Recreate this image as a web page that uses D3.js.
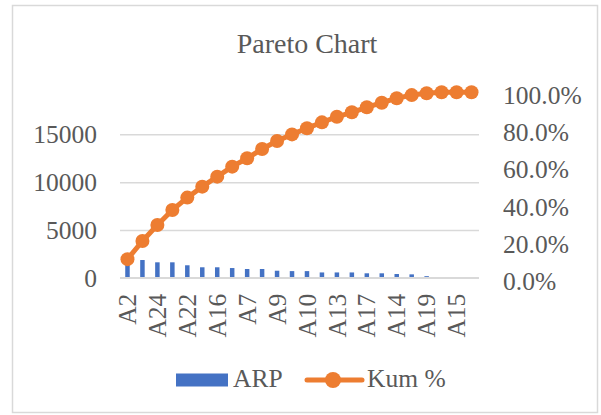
<!DOCTYPE html>
<html><head><meta charset="utf-8">
<script src="https://cdn.jsdelivr.net/npm/d3@7"></script>
<style>body{margin:0;background:#fff}svg{display:block}text{font-family:"Liberation Serif","Times New Roman",serif;fill:#595959}</style>
</head><body><svg id="c" width="601" height="415"></svg>
<script>
const categories = ["A2","A5","A24","A1","A22","A8","A16","A3","A7","A12","A9","A6","A10","A20","A13","A11","A17","A4","A14","A21","A19","A18","A15","A23"];
const arp = [1900,1850,1610,1610,1300,1090,1090,1010,910,910,730,690,690,550,550,550,460,460,385,350,160,0,0,0];
const kum = [0.100,0.198,0.284,0.365,0.432,0.491,0.545,0.599,0.644,0.694,0.737,0.773,0.806,0.838,0.868,0.892,0.919,0.944,0.968,0.985,0.995,1.0,1.0,1.0];
const leftTicks = [0,5000,10000,15000];
const rightTicks = [0,0.2,0.4,0.6,0.8,1.0];
const labelEvery = 2;

const svg = d3.select("#c");
const blue = "#4472C4", orange = "#ED7D31", grid = "#d9d9d9";

svg.append("rect").attr("x",12.5).attr("y",5.5).attr("width",585).attr("height",407)
  .attr("fill","#fff").attr("stroke","#d9d9d9").attr("stroke-width",1.5);

const x = d3.scaleBand().domain(categories).range([120,479]).paddingInner(0.7).paddingOuter(0.35);
const xc = d => x(d) + x.bandwidth()/2;
const yL = d3.scaleLinear().domain([0,19400]).range([277.7,92.3]);
const yR = d3.scaleLinear().domain([0,1]).range([277.7,92.3]);

svg.append("text").attr("x",307).attr("y",53).attr("text-anchor","middle")
  .style("font-size","28px").text("Pareto Chart");

// gridlines from left axis
const gL = svg.append("g").attr("transform","translate(120,0)")
  .call(d3.axisLeft(yL).tickValues(leftTicks).tickSize(-359).tickPadding(23).tickFormat(d3.format("d")));
gL.select(".domain").remove();
gL.selectAll(".tick line").attr("stroke",grid).attr("stroke-width",1.5);
gL.selectAll(".tick text").style("font-size","25.5px").attr("fill","#595959").attr("dy","0.33em");

const gR = svg.append("g").attr("transform","translate(479,0)")
  .call(d3.axisRight(yR).tickValues(rightTicks).tickSize(0).tickPadding(24).tickFormat(d3.format(".1%")));
gR.select(".domain").remove();
gR.selectAll(".tick text").style("font-size","25.5px").attr("fill","#595959").attr("dy","0.45em");

// bars
svg.append("g").selectAll("rect").data(categories).join("rect")
  .attr("x",d=>x(d)).attr("width",x.bandwidth())
  .attr("y",(d,i)=>yL(arp[i])).attr("height",(d,i)=>yL(0)-yL(arp[i]))
  .attr("fill",blue);

// x axis
const gX = svg.append("g").attr("transform","translate(0,277.7)")
  .call(d3.axisBottom(x).tickSize(0).tickFormat((d,i)=> i%labelEvery===0 ? d : ""));
gX.select(".domain").attr("stroke",grid).attr("stroke-width",1.5).attr("d","M120,0H479");
gX.selectAll(".tick text").style("font-size","25.5px").attr("fill","#595959")
  .attr("text-anchor","end").attr("transform","rotate(-90)")
  .attr("x",-16).attr("y",0).attr("dy","0.34em");

// line
const line = d3.line().x(d=>xc(d)).y((d,i)=>yR(kum[i]));
svg.append("path").datum(categories).attr("d",line).attr("fill","none")
  .attr("stroke",orange).attr("stroke-width",5).attr("stroke-linejoin","round");
svg.append("g").selectAll("circle").data(categories).join("circle")
  .attr("cx",d=>xc(d)).attr("cy",(d,i)=>yR(kum[i])).attr("r",7).attr("fill",orange);

// legend
const lg = svg.append("g");
lg.append("rect").attr("x",176).attr("y",373.5).attr("width",52).attr("height",13).attr("fill",blue);
lg.append("text").attr("x",233).attr("y",387).style("font-size","25.5px").text("ARP");
lg.append("line").attr("x1",307).attr("x2",362).attr("y1",380).attr("y2",380)
  .attr("stroke",orange).attr("stroke-width",5).attr("stroke-linecap","round");
lg.append("circle").attr("cx",333).attr("cy",380).attr("r",8).attr("fill",orange);
lg.append("text").attr("x",367).attr("y",387).style("font-size","25.5px").text("Kum %");
</script></body></html>
